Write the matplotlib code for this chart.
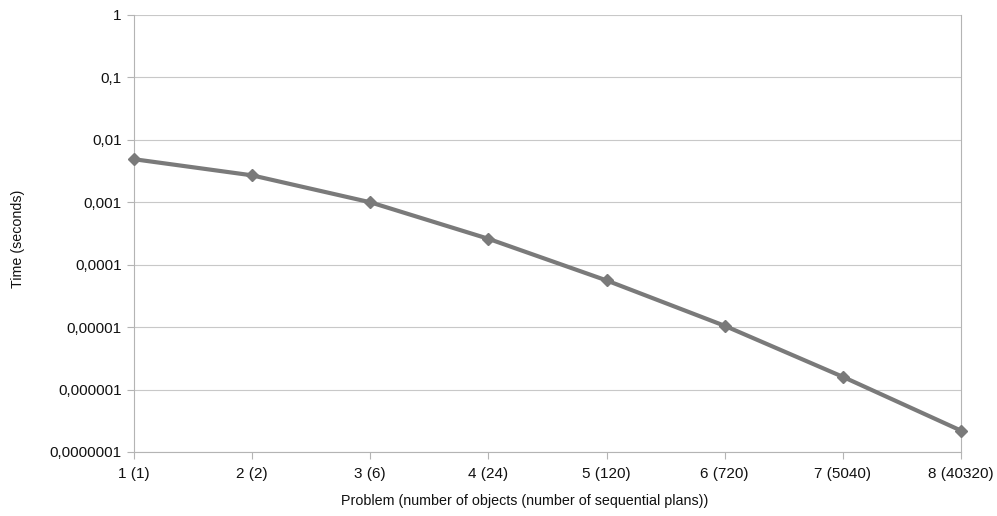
import matplotlib
matplotlib.use("Agg")
import matplotlib.pyplot as plt
from matplotlib.ticker import FixedLocator, FixedFormatter, NullLocator

categories = ["1 (1)", "2 (2)", "3 (6)", "4 (24)", "5 (120)", "6 (720)", "7 (5040)", "8 (40320)"]
times = [0.0049, 0.0027, 0.001, 0.00026, 0.000056, 0.0000105, 0.0000016, 0.00000022]
ytick_values = [1e-7, 1e-6, 1e-5, 1e-4, 1e-3, 1e-2, 1e-1, 1]
ytick_labels = ["0,0000001", "0,000001", "0,00001", "0,0001", "0,001", "0,01", "0,1", "1"]

plt.rcParams['font.family'] = ['Liberation Sans', 'DejaVu Sans']

W, H = 997, 516
fig = plt.figure(figsize=(W / 100, H / 100), dpi=100)
L, R, T, B = 134, 961, 15, 452
ax = fig.add_axes([L / W, (H - B) / H, (R - L) / W, (B - T) / H])

x = list(range(len(categories)))
ax.plot(x, times, color="#7a7a7a", linewidth=3.0, marker="D", markersize=6.5,
        markerfacecolor="#7a7a7a", markeredgecolor="#7a7a7a", zorder=3, clip_on=False)

ax.set_yscale("log")
ax.set_ylim(1e-7, 1)
ax.set_xlim(0, len(categories) - 1)
ax.yaxis.set_major_locator(FixedLocator(ytick_values))
ax.yaxis.set_major_formatter(FixedFormatter(ytick_labels))
ax.yaxis.set_minor_locator(NullLocator())
ax.set_xticks(x)
ax.set_xticklabels(categories)

ax.grid(axis="y", color="#c8c8c8", linewidth=0.8)
ax.set_axisbelow(True)
for side in ["left", "bottom", "right"]:
    ax.spines[side].set_color("#b4b4b4")
    ax.spines[side].set_linewidth(0.8)
ax.spines["top"].set_visible(False)

ax.tick_params(axis="both", colors="#b4b4b4", labelcolor="#111111", labelsize=11, length=5, width=0.8)
ax.tick_params(axis="y", pad=4)
ax.tick_params(axis="x", pad=6)

ax.set_ylabel("Time (seconds)", fontsize=10.3, color="#111111")
ax.yaxis.set_label_coords((18 - L) / (R - L), (B - 239) / (B - T))
ax.yaxis.label.set_va("center")
ax.set_xlabel("Problem (number of objects (number of sequential plans))", fontsize=10.3,
              color="#111111")
ax.xaxis.set_label_coords((525 - L) / (R - L), (B - 501) / (B - T))
ax.xaxis.label.set_va("center")

fig.savefig("out.png", dpi=100, facecolor="white")
